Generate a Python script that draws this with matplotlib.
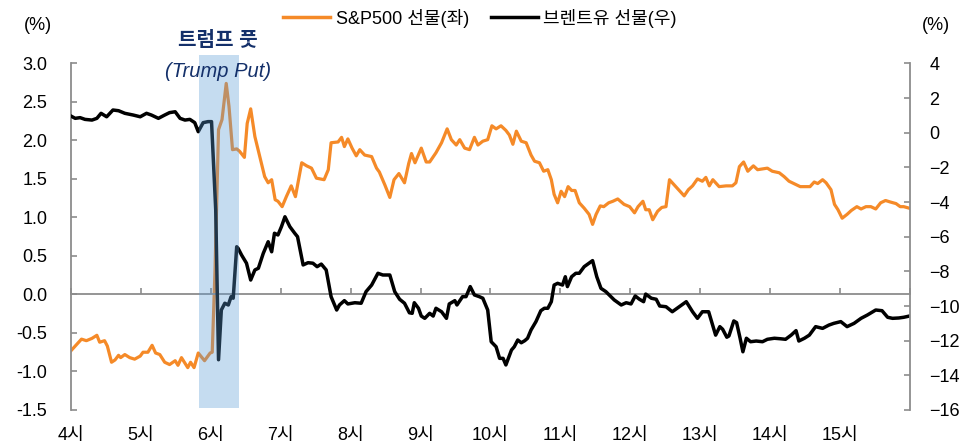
import matplotlib
matplotlib.use("Agg")
import matplotlib.pyplot as plt
from matplotlib.patches import Rectangle
from matplotlib.lines import Line2D

plt.rcParams['font.family'] = ['Liberation Sans', 'Noto Sans CJK KR', 'DejaVu Sans']

# S&P500 futures (left axis, %), time in decimal hours
spx_t = [4.00, 4.06, 4.15, 4.22, 4.30, 4.37, 4.41, 4.48, 4.52, 4.58, 4.63, 4.68, 4.71, 4.77,
         4.84, 4.91, 4.99, 5.03, 5.10, 5.16, 5.21, 5.27, 5.34, 5.41, 5.49, 5.53, 5.58, 5.67,
         5.71, 5.76, 5.82, 5.91, 5.99, 6.02, 6.06, 6.11, 6.16, 6.22, 6.26, 6.31, 6.37, 6.41,
         6.48, 6.52, 6.57, 6.63, 6.70, 6.77, 6.82, 6.87, 6.92, 6.96, 7.02, 7.08, 7.15, 7.21,
         7.30, 7.37, 7.44, 7.51, 7.62, 7.68, 7.72, 7.82, 7.87, 7.91, 7.96, 8.02, 8.08, 8.13,
         8.20, 8.30, 8.37, 8.41, 8.49, 8.56, 8.62, 8.69, 8.77, 8.83, 8.87, 8.92, 9.01, 9.08,
         9.13, 9.22, 9.30, 9.38, 9.44, 9.51, 9.56, 9.63, 9.70, 9.77, 9.82, 9.89, 9.96, 10.02,
         10.08, 10.15, 10.22, 10.27, 10.32, 10.37, 10.44, 10.51, 10.58, 10.63, 10.70, 10.76,
         10.82, 10.87, 10.91, 10.96, 11.01, 11.06, 11.11, 11.16, 11.21, 11.27, 11.34, 11.41,
         11.46, 11.51, 11.57, 11.62, 11.69, 11.75, 11.82, 11.91, 11.99, 12.06, 12.11, 12.18,
         12.22, 12.27, 12.32, 12.39, 12.45, 12.51, 12.56, 12.63, 12.70, 12.77, 12.83, 12.89,
         12.96, 13.03, 13.08, 13.13, 13.18, 13.27, 13.37, 13.46, 13.51, 13.56, 13.62, 13.68,
         13.76, 13.82, 13.89, 13.96, 14.03, 14.13, 14.20, 14.27, 14.34, 14.43, 14.51, 14.57,
         14.63, 14.68, 14.75, 14.80, 14.87, 14.92, 14.97, 15.03, 15.10, 15.16, 15.24, 15.30,
         15.37, 15.44, 15.51, 15.58, 15.65, 15.72, 15.80, 15.86, 15.91, 15.99]
spx_v = [-0.73, -0.67, -0.58, -0.60, -0.57, -0.53, -0.62, -0.60, -0.67, -0.88, -0.85, -0.79, -0.82, -0.78,
         -0.82, -0.84, -0.80, -0.75, -0.75, -0.66, -0.76, -0.78, -0.88, -0.91, -0.86, -0.92, -0.82, -0.95,
         -0.88, -0.95, -0.76, -0.86, -0.76, -0.75, 0.32, 2.14, 2.27, 2.74, 2.44, 1.88, 1.89, 1.86,
         1.78, 2.22, 2.41, 2.05, 1.79, 1.53, 1.45, 1.49, 1.23, 1.21, 1.14, 1.27, 1.41, 1.27,
         1.71, 1.67, 1.64, 1.51, 1.49, 1.62, 1.97, 1.98, 2.04, 1.92, 2.02, 1.90, 1.80, 1.88,
         1.81, 1.79, 1.64, 1.59, 1.42, 1.26, 1.49, 1.57, 1.45, 1.70, 1.83, 1.71, 1.90, 1.72,
         1.72, 1.84, 1.97, 2.15, 2.01, 1.94, 2.01, 1.90, 1.88, 2.04, 1.94, 1.99, 2.01, 2.19,
         2.15, 2.19, 2.13, 2.07, 1.95, 2.12, 1.99, 1.97, 1.81, 1.73, 1.71, 1.60,
         1.62, 1.49, 1.30, 1.19, 1.34, 1.27, 1.40, 1.35, 1.35, 1.19, 1.12, 1.04,
         0.91, 1.04, 1.15, 1.14, 1.19, 1.21, 1.24, 1.17, 1.14, 1.06, 1.14, 1.21,
         1.10, 1.10, 0.97, 1.08, 1.13, 1.14, 1.49, 1.42, 1.35, 1.28, 1.36, 1.41,
         1.50, 1.47, 1.52, 1.41, 1.49, 1.40, 1.41, 1.41, 1.45, 1.66, 1.72, 1.60,
         1.67, 1.62, 1.63, 1.64, 1.60, 1.58, 1.53, 1.47, 1.44, 1.40, 1.40, 1.40,
         1.46, 1.44, 1.49, 1.45, 1.36, 1.17, 1.10, 0.99, 1.04, 1.09, 1.14, 1.11,
         1.14, 1.14, 1.11, 1.19, 1.22, 1.20, 1.18, 1.14, 1.14, 1.12]

# Brent futures (right axis, %)
brent_t = [4.00, 4.06, 4.13, 4.20, 4.30, 4.37, 4.43, 4.51, 4.60, 4.68, 4.77, 4.84, 4.89, 4.99,
           5.08, 5.15, 5.25, 5.34, 5.41, 5.49, 5.56, 5.63, 5.70, 5.77, 5.82, 5.89, 5.96, 6.01,
           6.07, 6.11, 6.15, 6.20, 6.25, 6.29, 6.32, 6.37, 6.39, 6.44, 6.51, 6.57, 6.63, 6.68,
           6.75, 6.82, 6.87, 6.91, 6.96, 7.01, 7.06, 7.13, 7.20, 7.24, 7.32, 7.39, 7.46, 7.52,
           7.58, 7.65, 7.72, 7.80, 7.84, 7.91, 7.96, 8.06, 8.15, 8.22, 8.30, 8.39, 8.46, 8.56,
           8.63, 8.70, 8.77, 8.84, 8.88, 8.91, 8.97, 9.01, 9.06, 9.13, 9.18, 9.22, 9.30, 9.37,
           9.41, 9.49, 9.52, 9.60, 9.65, 9.71, 9.77, 9.84, 9.89, 9.96, 10.01, 10.08, 10.13, 10.18,
           10.22, 10.30, 10.34, 10.39, 10.44, 10.49, 10.53, 10.58, 10.65, 10.72, 10.77, 10.82,
           10.87, 10.91, 10.96, 11.03, 11.07, 11.10, 11.16, 11.22, 11.27, 11.34, 11.41, 11.46,
           11.52, 11.58, 11.65, 11.77, 11.87, 11.94, 12.01, 12.07, 12.13, 12.19, 12.22, 12.30,
           12.37, 12.42, 12.51, 12.60, 12.70, 12.80, 12.89, 12.96, 13.03, 13.12, 13.22, 13.28,
           13.32, 13.38, 13.41, 13.48, 13.52, 13.57, 13.61, 13.66, 13.72, 13.80, 13.89, 13.96,
           14.06, 14.15, 14.22, 14.30, 14.37, 14.41, 14.49, 14.56, 14.65, 14.75, 14.84, 14.91,
           15.01, 15.10, 15.20, 15.30, 15.39, 15.51, 15.60, 15.68, 15.75, 15.84, 15.91, 15.99]
brent_v = [0.96, 0.83, 0.87, 0.77, 0.73, 0.83, 1.12, 0.92, 1.31, 1.27, 1.12, 1.06, 1.02, 0.92,
           1.12, 1.02, 0.83, 1.02, 1.16, 1.21, 0.83, 0.73, 0.77, 0.58, 0.06, 0.58, 0.64, 0.64,
           -4.46, -13.10, -10.23, -9.84, -9.94, -9.46, -9.55, -6.58, -6.67, -7.06, -7.53, -8.50, -7.92, -7.82,
           -6.96, -6.29, -6.87, -5.80, -5.90, -5.42, -4.85, -5.42, -5.80, -6.00, -7.63, -7.50, -7.53, -7.73,
           -7.58, -7.92, -9.46, -10.23, -9.94, -9.69, -9.88, -9.81, -9.84, -9.17, -8.79, -8.11, -8.21, -8.21,
           -9.17, -9.61, -9.84, -10.39, -10.42, -9.81, -10.13, -10.58, -10.71, -10.42, -10.58, -10.13, -10.33, -10.71,
           -9.88, -9.69, -9.94, -9.46, -9.46, -8.88, -9.36, -9.46, -9.55, -10.23, -12.06, -12.35, -13.02, -13.02,
           -13.40, -12.54, -12.35, -11.96, -12.12, -12.00, -11.86, -11.38, -10.90, -10.27, -10.13, -10.13,
           -9.75, -8.79, -8.69, -8.79, -8.31, -8.88, -8.31, -8.11, -8.11, -7.73, -7.53, -7.38,
           -8.31, -8.98, -9.17, -9.65, -9.94, -9.81, -9.88, -9.42, -9.61, -9.75, -9.31, -9.55,
           -9.61, -10.00, -10.04, -10.33, -10.04, -9.75, -10.33, -10.71, -10.33, -10.33, -11.68, -11.19,
           -11.34, -11.80, -11.73, -10.86, -10.96, -11.86, -12.64, -11.86, -12.06, -12.02, -12.06, -11.92,
           -11.86, -11.89, -11.92, -11.68, -11.42, -12.02, -11.86, -11.68, -11.19, -11.29, -11.10, -11.00,
           -10.90, -11.19, -11.00, -10.71, -10.52, -10.23, -10.27, -10.65, -10.71, -10.69, -10.65, -10.58]

hours = list(range(4, 16))
hour_labels = [f"{h}시" for h in hours]
shade_start, shade_end = 5.83, 6.40

orange = '#F58A28'
navy = '#14306A'
gray = '#8C8C8C'

fig = plt.figure(figsize=(9.61, 4.43), dpi=100)
ax = fig.add_axes([71/961, 1-410/443, (910-71)/961, (410-63.4)/443])
ax2 = ax.twinx()

ax.plot(spx_t, spx_v, color=orange, lw=2.3, zorder=2, solid_joinstyle='round')
ax2.plot(brent_t, brent_v, color='black', lw=2.5, zorder=2, solid_joinstyle='round')

ax.set_xlim(4, 16)
ax.set_ylim(-1.5, 3.0)
ax2.set_ylim(-16, 4)
ax.set_yticks([3.0, 2.5, 2.0, 1.5, 1.0, 0.5, 0.0, -0.5, -1.0, -1.5])
ax.set_yticklabels([f"{v:.1f}" for v in ax.get_yticks()])
ax2.set_yticks(range(-16, 5, 2))

for a in (ax, ax2):
    a.spines['top'].set_visible(False)
ax.spines['right'].set_visible(False)
ax2.spines['left'].set_visible(False)
ax2.spines['bottom'].set_visible(False)
ax.spines['bottom'].set_position(('data', 0))
for s in ('left', 'bottom'):
    ax.spines[s].set_color(gray)
    ax.spines[s].set_linewidth(1.3)
ax2.spines['right'].set_color(gray)
ax2.spines['right'].set_linewidth(1.3)

ax.set_xticks(hours + [16])
ax.tick_params(axis='x', direction='in', length=4, width=1.2, color=gray, labelbottom=False)
ax.tick_params(axis='y', direction='in', length=4, width=1.2, color=gray, pad=17, labelsize=13)
ax2.tick_params(axis='y', direction='in', length=4, width=1.2, color=gray, pad=14, labelsize=13)

xt = ax.get_xaxis_transform()
for h, lab in zip(hours, hour_labels):
    ax.text(h, -0.075, lab, transform=xt, ha='center', va='center', fontsize=13)

# shaded "Trump Put" window drawn over the lines
ax2.add_patch(Rectangle((shade_start, 0.005), shade_end - shade_start, 1.02,
                        transform=ax2.get_xaxis_transform(), facecolor='#5B9BD5',
                        alpha=0.35, lw=0, zorder=5, clip_on=False))
ax2.text(6.10, 1.066, "트럼프 풋", transform=ax2.get_xaxis_transform(), ha='center', va='center',
         fontsize=14.5, color=navy, weight='bold', zorder=6)
ax2.text(6.10, 0.978, "(Trump Put)", transform=ax2.get_xaxis_transform(), ha='center', va='center',
         fontsize=14.5, color=navy, style='italic', zorder=6)

fig.text(38/961, 1-25/443, "(%)", ha='center', va='center', fontsize=13)
fig.text(936/961, 1-25/443, "(%)", ha='center', va='center', fontsize=13)

handles = [Line2D([], [], color=orange, lw=2.5), Line2D([], [], color='black', lw=2.5)]
fig.legend(handles, ["S&P500 선물(좌)", "브렌트유 선물(우)"], loc='center', ncol=2,
           bbox_to_anchor=(480/961, 1-18/443), frameon=False, fontsize=13,
           handlelength=2.6, handletextpad=0.3, columnspacing=1.2)

fig.savefig("out.png", dpi=100)
